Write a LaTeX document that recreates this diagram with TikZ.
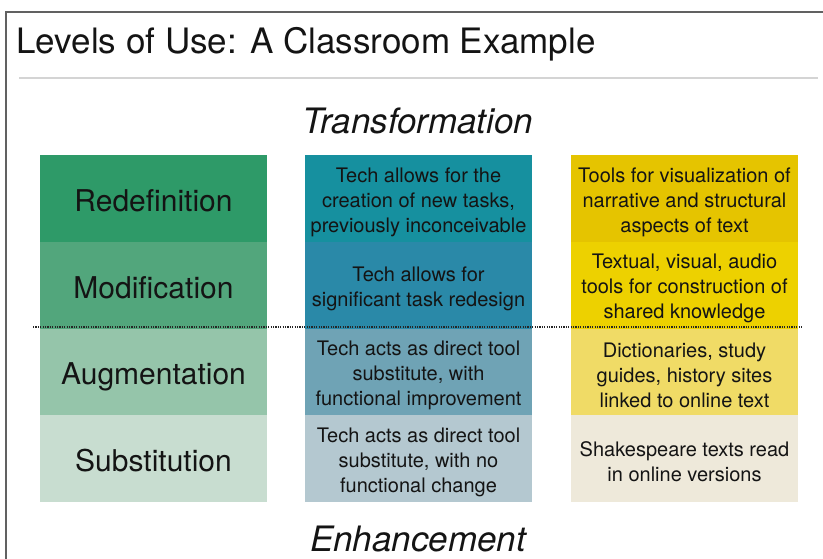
\documentclass[tikz,border=0pt]{standalone}
\usepackage{fontspec}
\setmainfont{TeX Gyre Heros}
\definecolor{gA}{HTML}{2E9A68}
\definecolor{gB}{HTML}{52A67C}
\definecolor{gC}{HTML}{95C5AA}
\definecolor{gD}{HTML}{C8DDD0}
\definecolor{bA}{HTML}{16909F}
\definecolor{bB}{HTML}{2A89A8}
\definecolor{bC}{HTML}{6FA3B5}
\definecolor{bD}{HTML}{B4C8D0}
\definecolor{yA}{HTML}{E5C400}
\definecolor{yB}{HTML}{EDD100}
\definecolor{yC}{HTML}{F0DB66}
\definecolor{yD}{HTML}{EEE9DA}
\definecolor{txt}{HTML}{141414}
\tikzset{
  cell/.style={minimum width=227pt, minimum height=86.75pt, inner sep=0pt, outer sep=0pt, anchor=north west, text=txt},
  lvl/.style={cell, text height=26pt, text depth=0pt, font=\fontsize{30}{34}\selectfont},
  dtext/.style={inner sep=0pt, align=center, text=txt, yshift=-3.5pt, font=\fontsize{20}{25}\selectfont},
  head/.style={anchor=base, text=txt, font=\fontsize{35}{40}\selectfont\itshape}
}
\begin{document}
\begin{tikzpicture}[x=1pt,y=-1pt]
\useasboundingbox (0,0) rectangle (823,558);
\clip (0,0) rectangle (823,558);
\fill[white] (0,0) rectangle (823,558);
\draw[color=black!62, line width=1.6pt] (6,600) -- (6,12) -- (840,12);
\node[anchor=base west, text=txt, font=\fontsize{35}{40}\selectfont] (title) at (13,53) {Levels of Use: A Classroom Example};
\draw[color=black!17, line width=1.8pt] (19,78) -- (818,78);
\node[head] (trans) at (418,133) {Transformation};
% column 1
\node[lvl, fill=gA] (red) at (40,155) {Redefinition};
\node[lvl, fill=gB] (mod) at (40,241.75) {Modification};
\node[lvl, fill=gC] (aug) at (40,328.5) {Augmentation};
\node[lvl, fill=gD] (sub) at (40,415.25) {Substitution};
% column 2
\node[cell, fill=bA] (tred) at (305,155) {};
\node[cell, fill=bB] (tmod) at (305,241.75) {};
\node[cell, fill=bC] (taug) at (305,328.5) {};
\node[cell, fill=bD] (tsub) at (305,415.25) {};
\node[dtext] (tredt) at (tred.center) {Tech allows for the\\creation of new tasks,\\previously inconceivable};
\node[dtext] (tmodt) at (tmod.center) {Tech allows for\\significant task redesign};
\node[dtext] (taugt) at (taug.center) {Tech acts as direct tool\\substitute, with\\functional improvement};
\node[dtext] (tsubt) at (tsub.center) {Tech acts as direct tool\\substitute, with no\\functional change};
% column 3
\node[cell, fill=yA] (ered) at (571,155) {};
\node[cell, fill=yB] (emod) at (571,241.75) {};
\node[cell, fill=yC] (eaug) at (571,328.5) {};
\node[cell, fill=yD] (esub) at (571,415.25) {};
\node[dtext] (eredt) at (ered.center) {Tools for visualization of\\narrative and structural\\aspects of text};
\node[dtext] (emodt) at (emod.center) {Textual, visual, audio\\tools for construction of\\shared knowledge};
\node[dtext] (eaugt) at (eaug.center) {Dictionaries, study\\guides, history sites\\linked to online text};
\node[dtext] (esubt) at (esub.center) {Shakespeare texts read\\in online versions};
% divider
\coordinate (dl) at (33,327);
\coordinate (dr) at (803,327);
\draw[color=black!85, line width=1.2pt, dash pattern=on 1.2pt off 1.2pt] (dl) -- (dr);
\node[head] (enh) at (418,551) {Enhancement};
\end{tikzpicture}
\end{document}
